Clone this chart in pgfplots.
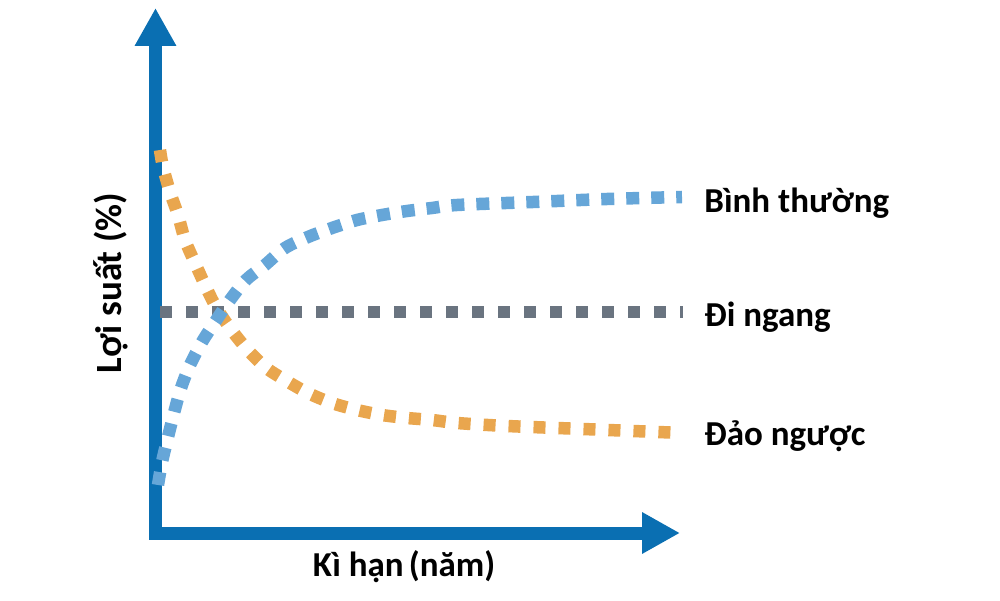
\documentclass[border=0pt]{standalone}
\usepackage{pgfplots}
\pgfplotsset{compat=1.18}
\usepackage{fontspec}
\setmainfont{Carlito}
\usetikzlibrary{arrows.meta}
\definecolor{axisblue}{HTML}{0A6FB2}
\definecolor{cblue}{HTML}{66A6D8}
\definecolor{corange}{HTML}{E9A64E}
\definecolor{cgray}{HTML}{6A7480}
\newcommand{\lab}{\fontsize{17.5}{20}\selectfont\bfseries}
\newcommand{\ylab}{\fontsize{18.5}{20}\selectfont\bfseries}
\begin{document}
\begin{tikzpicture}
\begin{axis}[name=ax,
  scale only axis, width=262.25pt, height=262.5pt,
  xmin=155.5, xmax=680, ymin=67, ymax=592,
  axis lines=left, xtick=\empty, ytick=\empty,
  axis line style={line width=6.5pt, color=axisblue, line cap=rect,
    -{Triangle[width=19.5pt,length=19pt]}},
  clip=false]
% Flat
\addplot[cgray, line width=6.25pt, dash pattern=on 6pt off 7pt] coordinates {(160,288) (683,288)};
% Inverted
\addplot[corange, line width=6.25pt, dash pattern=on 6pt off 6.5pt, smooth] coordinates {
(160,450) (163,433) (170,408) (178,385) (185,360) (195,337) (205,315) (216,293)
(230,272) (246,252) (265,233) (285,220) (308,207) (332,197) (357,190) (382,185)
(407,182) (432,180) (457,177) (507,174) (583,171) (658,168) (682,167)};
% Normal
\addplot[cblue, line width=6.25pt, dash pattern=on 6.5pt off 6pt, smooth] coordinates {
(158,115) (162,138) (168,163) (174,187) (181,212) (190,235) (202,258) (215,278)
(230,300) (246,320) (265,335) (285,352) (308,363) (332,372) (357,380) (382,385)
(407,389) (432,392) (457,395) (533,398) (607,401) (682,403)};
\node[anchor=base west, inner sep=0pt, font=\lab] at (axis cs:704,387) {Bình thường};
\node[anchor=base west, inner sep=0pt, font=\lab] at (axis cs:704,273) {Đi ngang};
\node[anchor=base west, inner sep=0pt, font=\lab] at (axis cs:704,155) {Đảo ngược};
\node[anchor=base, inner sep=0pt, font=\lab] at (axis cs:404,24) {Kì hạn\kern-0.08em\ (năm)};
\node[anchor=base, inner sep=0pt, rotate=90, font=\ylab] at (axis cs:122,317) {Lợi suất (\%)};
\end{axis}
\path[use as bounding box] ([shift={(-77.75pt,-33.5pt)}]ax.south west) rectangle ++(500pt,300pt);
\end{tikzpicture}
\end{document}
